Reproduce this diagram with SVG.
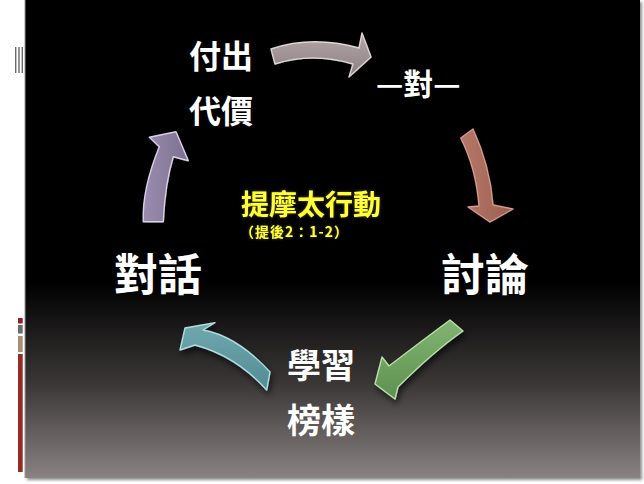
<svg xmlns="http://www.w3.org/2000/svg" width="644" height="484" viewBox="0 0 644 484">
<defs>
<linearGradient id="bg" x1="0" y1="0" x2="0" y2="1">
<stop offset="0" stop-color="#000"/>
<stop offset="0.59" stop-color="#000"/>
<stop offset="0.8" stop-color="#3a3636"/>
<stop offset="1" stop-color="#8a8282"/>
</linearGradient>
<linearGradient id="gGray" x1="0" y1="0" x2="0" y2="1"><stop offset="0" stop-color="#b2a6a8"/><stop offset="1" stop-color="#8c8082"/></linearGradient>
<linearGradient id="gBrown" x1="0" y1="0" x2="1" y2="0"><stop offset="0" stop-color="#b67868"/><stop offset="1" stop-color="#9a5e50"/></linearGradient>
<linearGradient id="gGreen" x1="0" y1="0" x2="0" y2="1"><stop offset="0" stop-color="#82b472"/><stop offset="1" stop-color="#5e9050"/></linearGradient>
<linearGradient id="gTeal" x1="0" y1="0" x2="0" y2="1"><stop offset="0" stop-color="#70a8ae"/><stop offset="1" stop-color="#528c94"/></linearGradient>
<linearGradient id="gPurple" x1="0" y1="0" x2="1" y2="0"><stop offset="0" stop-color="#9a8cae"/><stop offset="1" stop-color="#7c7090"/></linearGradient>
<filter id="shadow" x="-30%" y="-30%" width="160%" height="160%">
<feDropShadow dx="2" dy="4" stdDeviation="3" flood-color="#000" flood-opacity="0.6"/>
</filter>
<filter id="slideShadow" x="-5%" y="-5%" width="110%" height="110%">
<feGaussianBlur stdDeviation="1.5"/>
</filter>
<filter id="glow" x="-10%" y="-30%" width="120%" height="160%">
<feGaussianBlur in="SourceAlpha" stdDeviation="1.5" result="b"/>
<feFlood flood-color="#8a7c00" flood-opacity="0.7"/>
<feComposite in2="b" operator="in" result="g"/>
<feMerge><feMergeNode in="g"/><feMergeNode in="SourceGraphic"/></feMerge>
</filter>
</defs>
<style>
.t{font-family:"Noto Sans CJK TC","Noto Sans CJK SC",sans-serif;font-weight:700;fill:#fff}
.y{font-family:"Noto Sans CJK TC","Noto Sans CJK SC",sans-serif;font-weight:700;fill:#ffff3a}
.arr{stroke-width:1.4;stroke-linejoin:round;filter:url(#shadow)}
</style>
<rect width="644" height="484" fill="#fff"/>
<rect x="27" y="2" width="615" height="478" fill="#8c8c8c" filter="url(#slideShadow)"/>
<rect x="25" y="0" width="615" height="478" fill="url(#bg)"/>
<line x1="25" y1="0" x2="25" y2="478" stroke="#9a9a9a" stroke-width="1"/>
<g id="barcode" fill="#6a6a6a">
<rect x="15" y="47" width="1.4" height="26"/>
<rect x="18.3" y="47" width="1.4" height="26"/>
<rect x="21.6" y="47" width="1.4" height="26"/>
</g>
<g id="sidebars">
<rect x="18" y="318" width="4.7" height="5.5" fill="#8b2424"/>
<rect x="18" y="325" width="4.7" height="8.5" fill="#6c6870"/>
<rect x="18" y="336" width="4.7" height="16" fill="#a88f72"/>
<rect x="18" y="354" width="4.7" height="118" fill="#962a24"/>
</g>
<g id="connectors">
<path class="arr" fill="url(#gGray)" stroke="#ddd4d4" d="M271,49 Q312,35 359,48 L362,33 L371,57 L349,77 L353,64 Q312,52 275,64 Z"/>
<path class="arr" fill="url(#gBrown)" stroke="#d49a8a" d="M460.7,138 L473,129 Q490,166 493,205 L513,209 L490,222 L468,207 L479,206 Q476,168 460.7,138 Z"/>
<path class="arr" fill="url(#gGreen)" stroke="#b8e0a8" d="M450,320 L463,331 Q433,352 398,387 L395,399 L375,384 L382,357 L389,366 Q423,340 450,320 Z"/>
<path class="arr" fill="url(#gTeal)" stroke="#b0dce0" d="M270,372 Q237,336 203,330 L215,322.7 L185,328 L180,350 L195,345 Q236,356 266.7,390 Z"/>
<path class="arr" fill="url(#gPurple)" stroke="#d8d0e8" d="M143.3,221.7 Q142,189 159.3,146.7 L149.3,137.3 L176,131.7 L188.3,160.7 L173.3,156.7 Q165,184 163.3,221.7 Z"/>
</g>
<g id="node-pay">
<text class="t" x="189" y="68" font-size="32">付出</text>
<text class="t" x="189" y="123" font-size="32">代價</text>
</g>
<g id="node-one">
<text class="t" x="376" y="95" font-size="30">—對—</text>
</g>
<g id="node-discuss">
<text class="t" x="441" y="291" font-size="44">討論</text>
</g>
<g id="node-model">
<text class="t" x="287" y="378" font-size="34">學習</text>
<text class="t" x="287" y="433" font-size="34">榜樣</text>
</g>
<g id="node-dialog">
<text class="t" x="114" y="291" font-size="44">對話</text>
</g>
<g id="center" filter="url(#glow)">
<text class="y" x="241" y="215" font-size="28">提摩太行動</text>
<text class="y" x="240" y="237" font-size="14" textLength="108" lengthAdjust="spacing">（提後2：1-2）</text>
</g>
</svg>
